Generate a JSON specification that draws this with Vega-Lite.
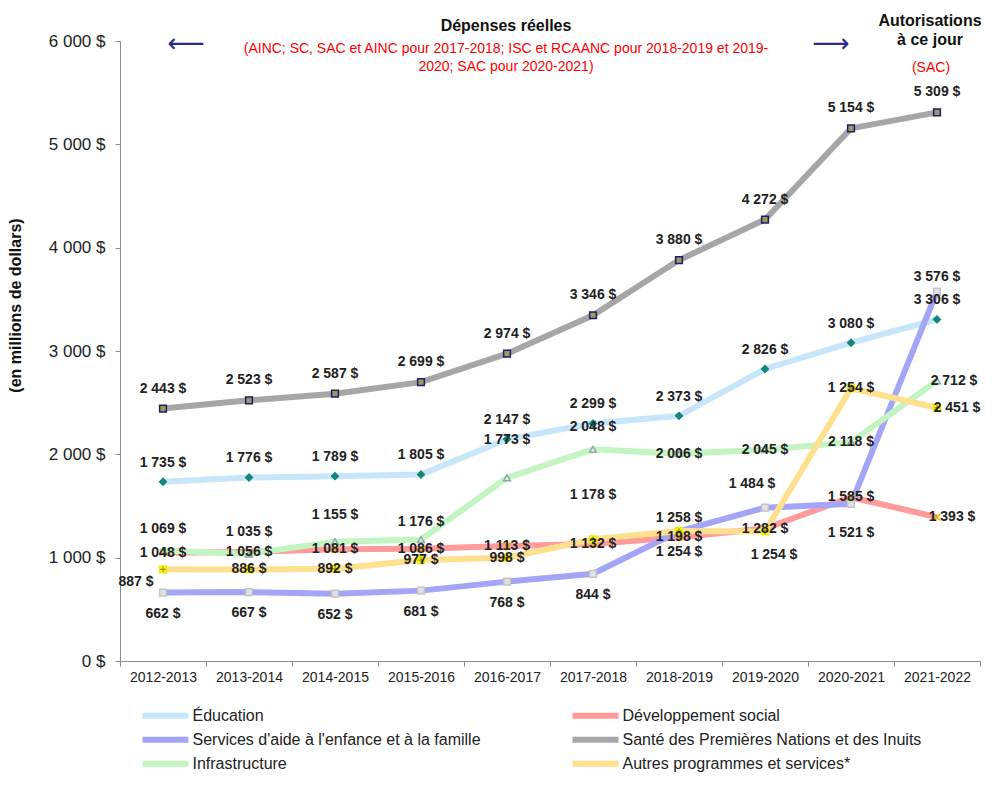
{
  "$schema": "https://vega.github.io/schema/vega-lite/v6.json",
  "width": 860,
  "height": 620,
  "autosize": {"type": "none"},
  "padding": {"left": 120, "top": 41, "right": 20, "bottom": 126},
  "background": "white",
  "config": {
    "font": "Liberation Sans",
    "view": {"stroke": null}
  },
  "data": {
    "values": [
      {"year": "2012-2013", "series": "Éducation", "value": 1735, "label": "1 735 $"},
      {"year": "2013-2014", "series": "Éducation", "value": 1776, "label": "1 776 $"},
      {"year": "2014-2015", "series": "Éducation", "value": 1789, "label": "1 789 $"},
      {"year": "2015-2016", "series": "Éducation", "value": 1805, "label": "1 805 $"},
      {"year": "2016-2017", "series": "Éducation", "value": 2147, "label": "2 147 $"},
      {"year": "2017-2018", "series": "Éducation", "value": 2299, "label": "2 299 $"},
      {"year": "2018-2019", "series": "Éducation", "value": 2373, "label": "2 373 $"},
      {"year": "2019-2020", "series": "Éducation", "value": 2826, "label": "2 826 $"},
      {"year": "2020-2021", "series": "Éducation", "value": 3080, "label": "3 080 $"},
      {"year": "2021-2022", "series": "Éducation", "value": 3306, "label": "3 306 $"},
      {"year": "2012-2013", "series": "Développement social", "value": 1048, "label": "1 048 $"},
      {"year": "2013-2014", "series": "Développement social", "value": 1056, "label": "1 056 $"},
      {"year": "2014-2015", "series": "Développement social", "value": 1081, "label": "1 081 $"},
      {"year": "2015-2016", "series": "Développement social", "value": 1086, "label": "1 086 $"},
      {"year": "2016-2017", "series": "Développement social", "value": 1113, "label": "1 113 $"},
      {"year": "2017-2018", "series": "Développement social", "value": 1132, "label": "1 132 $"},
      {"year": "2018-2019", "series": "Développement social", "value": 1198, "label": "1 198 $"},
      {"year": "2019-2020", "series": "Développement social", "value": 1282, "label": "1 282 $"},
      {"year": "2020-2021", "series": "Développement social", "value": 1585, "label": "1 585 $"},
      {"year": "2021-2022", "series": "Développement social", "value": 1393, "label": "1 393 $"},
      {"year": "2012-2013", "series": "Services d'aide à l'enfance et à la famille", "value": 662, "label": "662 $"},
      {"year": "2013-2014", "series": "Services d'aide à l'enfance et à la famille", "value": 667, "label": "667 $"},
      {"year": "2014-2015", "series": "Services d'aide à l'enfance et à la famille", "value": 652, "label": "652 $"},
      {"year": "2015-2016", "series": "Services d'aide à l'enfance et à la famille", "value": 681, "label": "681 $"},
      {"year": "2016-2017", "series": "Services d'aide à l'enfance et à la famille", "value": 768, "label": "768 $"},
      {"year": "2017-2018", "series": "Services d'aide à l'enfance et à la famille", "value": 844, "label": "844 $"},
      {"year": "2018-2019", "series": "Services d'aide à l'enfance et à la famille", "value": 1254, "label": "1 254 $"},
      {"year": "2019-2020", "series": "Services d'aide à l'enfance et à la famille", "value": 1484, "label": "1 484 $"},
      {"year": "2020-2021", "series": "Services d'aide à l'enfance et à la famille", "value": 1521, "label": "1 521 $"},
      {"year": "2021-2022", "series": "Services d'aide à l'enfance et à la famille", "value": 3576, "label": "3 576 $"},
      {"year": "2012-2013", "series": "Santé des Premières Nations et des Inuits", "value": 2443, "label": "2 443 $"},
      {"year": "2013-2014", "series": "Santé des Premières Nations et des Inuits", "value": 2523, "label": "2 523 $"},
      {"year": "2014-2015", "series": "Santé des Premières Nations et des Inuits", "value": 2587, "label": "2 587 $"},
      {"year": "2015-2016", "series": "Santé des Premières Nations et des Inuits", "value": 2699, "label": "2 699 $"},
      {"year": "2016-2017", "series": "Santé des Premières Nations et des Inuits", "value": 2974, "label": "2 974 $"},
      {"year": "2017-2018", "series": "Santé des Premières Nations et des Inuits", "value": 3346, "label": "3 346 $"},
      {"year": "2018-2019", "series": "Santé des Premières Nations et des Inuits", "value": 3880, "label": "3 880 $"},
      {"year": "2019-2020", "series": "Santé des Premières Nations et des Inuits", "value": 4272, "label": "4 272 $"},
      {"year": "2020-2021", "series": "Santé des Premières Nations et des Inuits", "value": 5154, "label": "5 154 $"},
      {"year": "2021-2022", "series": "Santé des Premières Nations et des Inuits", "value": 5309, "label": "5 309 $"},
      {"year": "2012-2013", "series": "Infrastructure", "value": 1069, "label": "1 069 $"},
      {"year": "2013-2014", "series": "Infrastructure", "value": 1035, "label": "1 035 $"},
      {"year": "2014-2015", "series": "Infrastructure", "value": 1155, "label": "1 155 $"},
      {"year": "2015-2016", "series": "Infrastructure", "value": 1176, "label": "1 176 $"},
      {"year": "2016-2017", "series": "Infrastructure", "value": 1773, "label": "1 773 $"},
      {"year": "2017-2018", "series": "Infrastructure", "value": 2048, "label": "2 048 $"},
      {"year": "2018-2019", "series": "Infrastructure", "value": 2006, "label": "2 006 $"},
      {"year": "2019-2020", "series": "Infrastructure", "value": 2045, "label": "2 045 $"},
      {"year": "2020-2021", "series": "Infrastructure", "value": 2118, "label": "2 118 $"},
      {"year": "2021-2022", "series": "Infrastructure", "value": 2712, "label": "2 712 $"},
      {"year": "2012-2013", "series": "Autres programmes et services*", "value": 887, "label": "887 $"},
      {"year": "2013-2014", "series": "Autres programmes et services*", "value": 886, "label": "886 $"},
      {"year": "2014-2015", "series": "Autres programmes et services*", "value": 892, "label": "892 $"},
      {"year": "2015-2016", "series": "Autres programmes et services*", "value": 977, "label": "977 $"},
      {"year": "2016-2017", "series": "Autres programmes et services*", "value": 998, "label": "998 $"},
      {"year": "2017-2018", "series": "Autres programmes et services*", "value": 1178, "label": "1 178 $"},
      {"year": "2018-2019", "series": "Autres programmes et services*", "value": 1258, "label": "1 258 $"},
      {"year": "2019-2020", "series": "Autres programmes et services*", "value": 1254, "label": "1 254 $"},
      {"year": "2020-2021", "series": "Autres programmes et services*", "value": 2640, "label": "1 254 $"},
      {"year": "2021-2022", "series": "Autres programmes et services*", "value": 2451, "label": "2 451 $"}
    ]
  },
  "layer": [
    {
      "mark": {"type": "line"},
      "encoding": {
        "x": {
          "field": "year", "type": "ordinal", "bandPosition": 0.5,
          "scale": {"type": "band", "paddingInner": 0, "paddingOuter": 0},
          "axis": {
            "title": null, "labelAngle": 0, "tickBand": "extent",
            "domainColor": "#8a8a9c", "tickColor": "#8a8a9c", "tickSize": 5,
            "labelFontSize": 14, "labelColor": "#222222", "labelPadding": 4
          }
        },
        "y": {
          "field": "value", "type": "quantitative",
          "scale": {"domain": [0, 6000], "nice": false},
          "axis": {
            "values": [0, 1000, 2000, 3000, 4000, 5000, 6000],
            "labelExpr": "replace(format(datum.value, ','), ',', ' ') + ' $'",
            "grid": false, "domainColor": "#8a8a9c", "tickColor": "#8a8a9c", "tickSize": 5,
            "labelFontSize": 17, "labelColor": "#222222", "labelPadding": 10,
            "title": "(en millions de dollars)", "titleFontSize": 16, "titleFontWeight": "bold",
            "titleColor": "#111111", "titleX": -105, "titleY": 264, "titleAngle": -90, "titleBaseline": "middle"
          }
        },
        "stroke": {
          "field": "series", "type": "nominal",
          "scale": {
            "domain": ["Éducation", "Développement social", "Services d'aide à l'enfance et à la famille", "Santé des Premières Nations et des Inuits", "Infrastructure", "Autres programmes et services*"],
            "range": ["#c8e6fa", "#ff9b9b", "#a5a5f7", "#a6a6a6", "#c3f5c3", "#ffe08f"]
          },
          "legend": {
            "title": null, "orient": "none", "legendX": 36.5, "legendY": 665.75,
            "direction": "horizontal", "columns": 2, "columnPadding": 79, "rowPadding": 0, "padding": 0,
            "symbolType": "M-4,0H4", "symbolSize": 132, "symbolStrokeWidth": 5, "symbolFillColor": "transparent",
            "labelOffset": 18, "labelFontSize": 16, "labelColor": "#222222", "labelLimit": 0
          }
        },
        "strokeWidth": {
          "field": "series", "type": "nominal",
          "scale": {
            "domain": ["Éducation", "Développement social", "Services d'aide à l'enfance et à la famille", "Santé des Premières Nations et des Inuits", "Infrastructure", "Autres programmes et services*"],
            "range": [6, 6, 3.5, 3, 3.5, 3.5]
          },
          "legend": null
        }
      }
    },
    {
      "transform": [{"calculate": "datum.series", "as": "marker"}],
      "mark": {"type": "point", "filled": false, "size": 45, "strokeWidth": 1.5, "opacity": 1},
      "encoding": {
        "x": {"field": "year", "type": "ordinal", "bandPosition": 0.5},
        "y": {"field": "value", "type": "quantitative"},
        "shape": {
          "field": "marker", "type": "nominal", "sort": null,
          "scale": {"range": ["diamond", "M-1,-1L1,1M1,-1L-1,1", "square", "square", "triangle-up", "square"]},
          "legend": null
        },
        "color": {
          "field": "marker", "type": "nominal", "sort": null,
          "scale": {"range": ["#13857a", "#e6b000", "#c4c4c4", "#1c1c70", "#8fa8a8", "#ecec00"]},
          "legend": null
        },
        "fill": {
          "field": "marker", "type": "nominal", "sort": null,
          "scale": {"range": ["#13857a", "transparent", "#e2e2e2", "#a09a5a", "#dceedc", "#ffff00"]},
          "legend": null
        }
      }
    },
    {
      "transform": [{"filter": "datum.series === 'Autres programmes et services*'"}],
      "mark": {"type": "point", "shape": "M-1,0H1M0,-1V1", "filled": false, "size": 30, "stroke": "#a08c00", "strokeWidth": 1.2, "opacity": 1},
      "encoding": {
        "x": {"field": "year", "type": "ordinal", "bandPosition": 0.5},
        "y": {"field": "value", "type": "quantitative"}
      }
    },
    {
      "transform": [{"filter": "datum.series === 'Santé des Premières Nations et des Inuits'"}],
      "mark": {"type": "text", "fontSize": 14, "fontWeight": "bold", "color": "#222222", "dy": -20},
      "encoding": {
        "x": {"field": "year", "type": "ordinal", "bandPosition": 0.5},
        "y": {"field": "value", "type": "quantitative"},
        "text": {"field": "label"}
      }
    },
    {
      "transform": [{"filter": "datum.series === 'Éducation'"}],
      "mark": {"type": "text", "fontSize": 14, "fontWeight": "bold", "color": "#222222", "dy": -19},
      "encoding": {
        "x": {"field": "year", "type": "ordinal", "bandPosition": 0.5},
        "y": {"field": "value", "type": "quantitative"},
        "text": {"field": "label"}
      }
    },
    {
      "transform": [{"filter": "datum.series === 'Infrastructure'"}],
      "mark": {
        "type": "text", "fontSize": 14, "fontWeight": "bold", "color": "#222222",
        "dy": {"expr": "datum.year === '2016-2017' ? -38 : datum.year === '2014-2015' ? -27 : datum.year === '2015-2016' ? -17 : (datum.year === '2018-2019' || datum.year === '2019-2020' || datum.year === '2020-2021' || datum.year === '2021-2022') ? 0 : -22"},
        "dx": {"expr": "datum.year === '2021-2022' ? 17 : 0"}
      },
      "encoding": {
        "x": {"field": "year", "type": "ordinal", "bandPosition": 0.5},
        "y": {"field": "value", "type": "quantitative"},
        "text": {"field": "label"}
      }
    },
    {
      "transform": [{"filter": "datum.series === 'Développement social'"}],
      "mark": {
        "type": "text", "fontSize": 14, "fontWeight": "bold", "color": "#222222",
        "dx": {"expr": "datum.year === '2021-2022' ? 15 : 0"}
      },
      "encoding": {
        "x": {"field": "year", "type": "ordinal", "bandPosition": 0.5},
        "y": {"field": "value", "type": "quantitative"},
        "text": {"field": "label"}
      }
    },
    {
      "transform": [{"filter": "datum.series === \"Services d'aide à l'enfance et à la famille\""}],
      "mark": {
        "type": "text", "fontSize": 14, "fontWeight": "bold", "color": "#222222",
        "dy": {"expr": "datum.year === '2019-2020' ? -24 : datum.year === '2020-2021' ? 29 : datum.year === '2021-2022' ? -14 : 21"},
        "dx": {"expr": "datum.year === '2019-2020' ? -13 : 0"}
      },
      "encoding": {
        "x": {"field": "year", "type": "ordinal", "bandPosition": 0.5},
        "y": {"field": "value", "type": "quantitative"},
        "text": {"field": "label"}
      }
    },
    {
      "transform": [{"filter": "datum.series === 'Autres programmes et services*'"}],
      "mark": {
        "type": "text", "fontSize": 14, "fontWeight": "bold", "color": "#222222",
        "dy": {"expr": "datum.year === '2012-2013' ? 13 : datum.year === '2017-2018' ? -44 : datum.year === '2018-2019' ? -13 : datum.year === '2019-2020' ? 24 : 0"},
        "dx": {"expr": "datum.year === '2012-2013' ? -27 : datum.year === '2019-2020' ? 9 : datum.year === '2021-2022' ? 20 : 0"}
      },
      "encoding": {
        "x": {"field": "year", "type": "ordinal", "bandPosition": 0.5},
        "y": {"field": "value", "type": "quantitative"},
        "text": {"field": "label"}
      }
    },
    {
      "data": {"values": [{}]},
      "mark": {"type": "text", "fontSize": 16, "fontWeight": "bold", "color": "#111111", "dx": -1},
      "encoding": {
        "x": {"datum": "2016-2017", "type": "ordinal", "bandPosition": 0.5},
        "y": {"datum": 6145, "type": "quantitative"},
        "text": {"value": "Dépenses réelles"}
      }
    },
    {
      "data": {"values": [{}]},
      "mark": {"type": "text", "fontSize": 14, "color": "#ff0000", "dx": -1, "lineHeight": 18, "baseline": "top"},
      "encoding": {
        "x": {"datum": "2016-2017", "type": "ordinal", "bandPosition": 0.5},
        "y": {"datum": 5990, "type": "quantitative"},
        "text": {"value": ["(AINC; SC, SAC et AINC pour 2017-2018; ISC et RCAANC pour 2018-2019 et 2019-", "2020; SAC pour 2020-2021)"]}
      }
    },
    {
      "data": {"values": [{}]},
      "mark": {"type": "text", "fontSize": 16, "fontWeight": "bold", "color": "#111111", "dx": -7, "lineHeight": 19, "baseline": "middle"},
      "encoding": {
        "x": {"datum": "2021-2022", "type": "ordinal", "bandPosition": 0.5},
        "y": {"datum": 6190, "type": "quantitative"},
        "text": {"value": ["Autorisations", "à ce jour"]}
      }
    },
    {
      "data": {"values": [{}]},
      "mark": {"type": "text", "fontSize": 14, "color": "#ff0000", "dx": -6},
      "encoding": {
        "x": {"datum": "2021-2022", "type": "ordinal", "bandPosition": 0.5},
        "y": {"datum": 5740, "type": "quantitative"},
        "text": {"value": "(SAC)"}
      }
    },
    {
      "data": {"values": [{}]},
      "mark": {"type": "text", "font": "DejaVu Sans", "fontSize": 26, "fontWeight": "normal", "color": "#2a2a8a", "dx": 23},
      "encoding": {
        "x": {"datum": "2012-2013", "type": "ordinal", "bandPosition": 0.5},
        "y": {"datum": 5975, "type": "quantitative"},
        "text": {"value": "⟵"}
      }
    },
    {
      "data": {"values": [{}]},
      "mark": {"type": "text", "font": "DejaVu Sans", "fontSize": 26, "fontWeight": "normal", "color": "#2a2a8a", "dx": -20},
      "encoding": {
        "x": {"datum": "2020-2021", "type": "ordinal", "bandPosition": 0.5},
        "y": {"datum": 5975, "type": "quantitative"},
        "text": {"value": "⟶"}
      }
    }
  ]
}
